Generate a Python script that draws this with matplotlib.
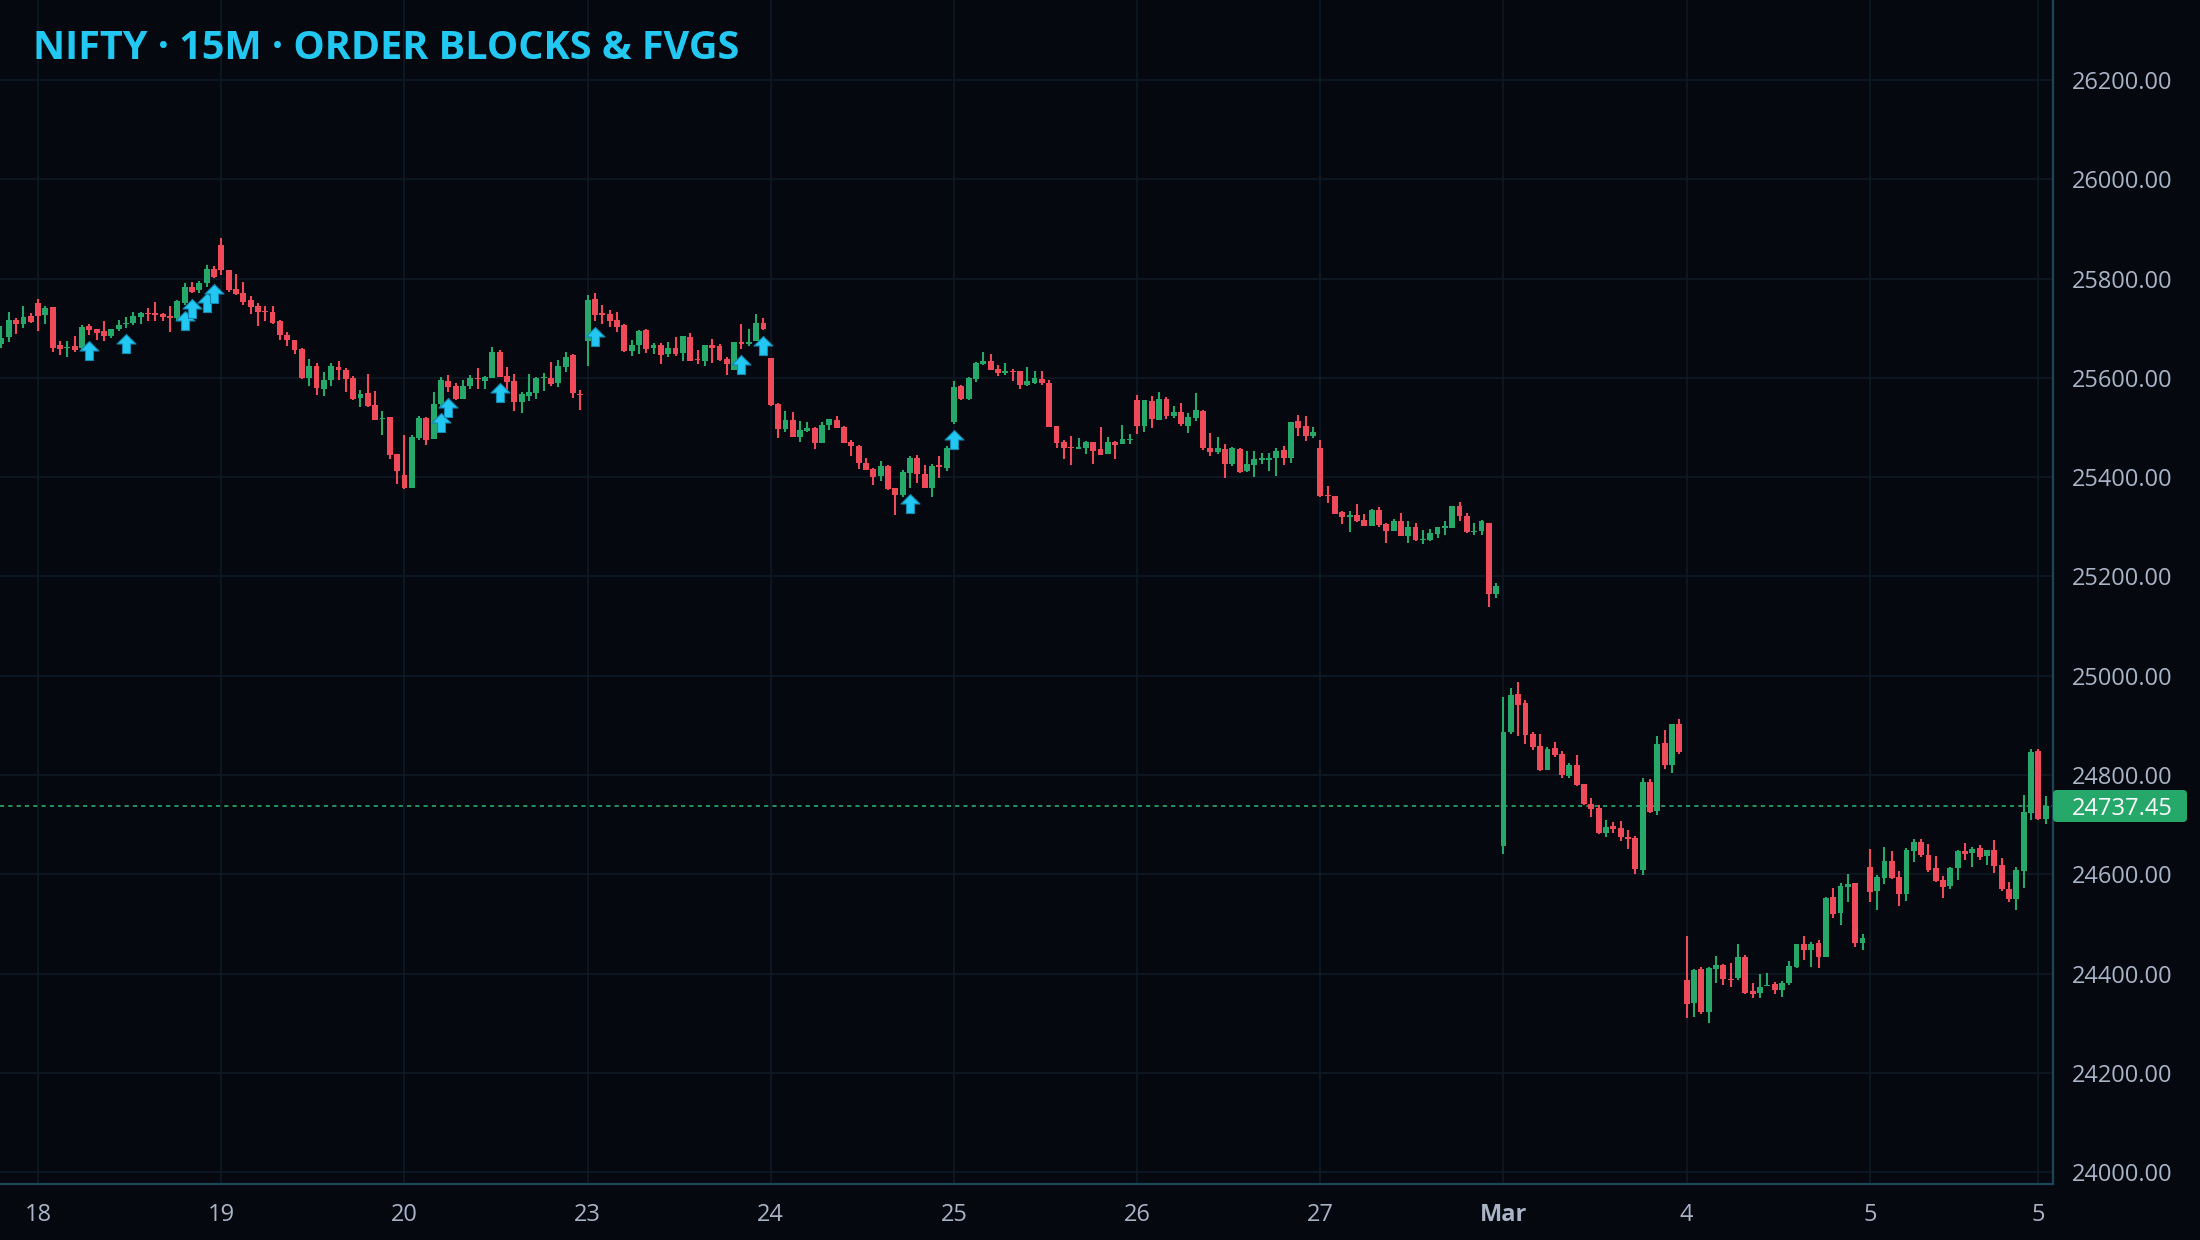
import numpy as np
import pandas as pd
import matplotlib
matplotlib.use("Agg")
import matplotlib.pyplot as plt
from matplotlib.path import Path
from matplotlib.patches import FancyBboxPatch
from matplotlib.transforms import IdentityTransform

# ---------------- data ----------------
opens = [25668, 25683, 25716, 25709, 25724, 25750, 25726, 25742, 25666, 25660,
         25664, 25659, 25704, 25699, 25695, 25684, 25698, 25708, 25711, 25723,
         25731, 25731, 25728, 25722, 25720, 25750, 25783, 25777, 25791, 25819,
         25867, 25817, 25778, 25771, 25756, 25744, 25735, 25732, 25714, 25686,
         25677, 25658, 25600, 25623, 25577, 25595, 25621, 25615, 25600, 25560,
         25569, 25545, 25517, 25521, 25446, 25404, 25378, 25478, 25518, 25476,
         25548, 25593, 25583, 25558, 25583, 25599, 25594, 25600, 25652, 25603,
         25593, 25552, 25563, 25570, 25599, 25599, 25590, 25622, 25646, 25568,
         25675, 25758, 25731, 25728, 25716, 25706, 25654, 25666, 25696, 25659,
         25666, 25648, 25659, 25650, 25682, 25636, 25634, 25667, 25664, 25638,
         25615, 25672, 25669, 25675, 25710, 25640, 25547, 25497, 25515, 25481,
         25492, 25498, 25468, 25504, 25515, 25500, 25471, 25463, 25428, 25416,
         25403, 25423, 25378, 25363, 25409, 25439, 25406, 25377, 25424, 25419,
         25510, 25584, 25557, 25598, 25628, 25634, 25618, 25610, 25614, 25614,
         25586, 25590, 25598, 25590, 25503, 25471, 25461, 25457, 25459, 25471,
         25457, 25447, 25471, 25467, 25475, 25555, 25502, 25553, 25515, 25557,
         25523, 25531, 25503, 25519, 25533, 25459, 25451, 25457, 25426, 25457,
         25412, 25424, 25435, 25435, 25439, 25455, 25439, 25513, 25503, 25483,
         25459, 25364, 25362, 25330, 25319, 25324, 25314, 25302, 25334, 25306,
         25292, 25312, 25281, 25300, 25273, 25273, 25285, 25298, 25298, 25342,
         25322, 25289, 25292, 25308, 25165, 24656, 24887, 24963, 24945, 24883,
         24858, 24810, 24854, 24842, 24798, 24820, 24782, 24742, 24733, 24683,
         24697, 24693, 24675, 24673, 24609, 24786, 24727, 24864, 24820, 24903,
         24387, 24341, 24409, 24323, 24409, 24417, 24389, 24390, 24433, 24365,
         24361, 24374, 24379, 24366, 24380, 24413, 24460, 24448, 24462, 24434,
         24554, 24521, 24575, 24582, 24462, 24615, 24567, 24593, 24627, 24594,
         24561, 24647, 24665, 24639, 24613, 24588, 24577, 24613, 24647, 24643,
         24653, 24637, 24649, 24619, 24570, 24551, 24607, 24724, 24848, 24711]
highs = [25704, 25733, 25720, 25744, 25730, 25758, 25744, 25742, 25674, 25674,
         25684, 25706, 25708, 25699, 25714, 25699, 25716, 25722, 25732, 25732,
         25740, 25752, 25730, 25744, 25756, 25791, 25793, 25795, 25827, 25825,
         25882, 25818, 25810, 25793, 25764, 25750, 25744, 25744, 25717, 25692,
         25677, 25660, 25638, 25629, 25611, 25629, 25634, 25619, 25603, 25575,
         25607, 25573, 25533, 25521, 25446, 25484, 25484, 25524, 25521, 25571,
         25602, 25605, 25589, 25595, 25605, 25620, 25603, 25662, 25656, 25621,
         25607, 25571, 25607, 25602, 25609, 25632, 25636, 25652, 25648, 25575,
         25766, 25771, 25746, 25736, 25732, 25708, 25676, 25696, 25698, 25670,
         25670, 25672, 25682, 25684, 25690, 25656, 25666, 25678, 25668, 25641,
         25672, 25708, 25698, 25728, 25720, 25640, 25549, 25533, 25531, 25513,
         25511, 25500, 25511, 25517, 25523, 25502, 25475, 25465, 25439, 25418,
         25432, 25424, 25378, 25414, 25443, 25445, 25424, 25426, 25443, 25463,
         25594, 25586, 25602, 25632, 25652, 25648, 25626, 25630, 25618, 25614,
         25622, 25614, 25614, 25596, 25503, 25475, 25483, 25479, 25473, 25471,
         25501, 25481, 25473, 25505, 25487, 25565, 25555, 25563, 25571, 25561,
         25543, 25549, 25529, 25569, 25535, 25489, 25481, 25467, 25461, 25459,
         25453, 25453, 25449, 25449, 25459, 25463, 25511, 25525, 25523, 25501,
         25475, 25382, 25362, 25332, 25332, 25346, 25326, 25336, 25340, 25308,
         25316, 25328, 25312, 25308, 25293, 25295, 25300, 25312, 25342, 25350,
         25328, 25308, 25314, 25308, 25187, 24957, 24975, 24987, 24951, 24887,
         24883, 24856, 24866, 24848, 24824, 24840, 24782, 24754, 24739, 24709,
         24705, 24707, 24689, 24677, 24794, 24792, 24878, 24891, 24903, 24913,
         24476, 24409, 24413, 24413, 24435, 24419, 24421, 24459, 24437, 24381,
         24399, 24401, 24383, 24385, 24425, 24460, 24476, 24464, 24468, 24554,
         24572, 24582, 24601, 24582, 24480, 24651, 24598, 24655, 24647, 24606,
         24653, 24671, 24671, 24661, 24637, 24596, 24615, 24649, 24663, 24655,
         24659, 24649, 24669, 24633, 24584, 24615, 24760, 24852, 24852, 24758]
lows = [25661, 25673, 25688, 25701, 25711, 25694, 25708, 25652, 25646, 25642,
        25652, 25656, 25686, 25676, 25674, 25681, 25694, 25701, 25706, 25708,
        25714, 25714, 25714, 25692, 25716, 25746, 25771, 25770, 25783, 25802,
        25807, 25773, 25766, 25746, 25728, 25704, 25714, 25709, 25676, 25664,
        25648, 25597, 25583, 25565, 25563, 25583, 25595, 25571, 25556, 25541,
        25541, 25515, 25484, 25436, 25386, 25375, 25378, 25474, 25464, 25476,
        25542, 25572, 25556, 25558, 25577, 25577, 25577, 25600, 25601, 25570,
        25533, 25529, 25554, 25558, 25574, 25583, 25582, 25612, 25560, 25535,
        25623, 25714, 25708, 25702, 25692, 25652, 25644, 25648, 25650, 25648,
        25628, 25642, 25644, 25634, 25634, 25628, 25623, 25630, 25634, 25605,
        25615, 25658, 25664, 25675, 25696, 25543, 25478, 25491, 25481, 25471,
        25490, 25457, 25468, 25494, 25498, 25469, 25443, 25416, 25414, 25385,
        25393, 25374, 25324, 25359, 25379, 25389, 25379, 25359, 25399, 25413,
        25506, 25556, 25556, 25592, 25626, 25616, 25604, 25606, 25594, 25578,
        25584, 25588, 25586, 25500, 25459, 25437, 25424, 25457, 25447, 25427,
        25445, 25447, 25437, 25467, 25467, 25486, 25490, 25498, 25514, 25517,
        25519, 25503, 25489, 25513, 25455, 25443, 25447, 25398, 25422, 25408,
        25410, 25400, 25426, 25412, 25402, 25424, 25428, 25483, 25473, 25479,
        25360, 25348, 25326, 25306, 25290, 25310, 25302, 25302, 25300, 25267,
        25292, 25281, 25267, 25271, 25265, 25271, 25277, 25283, 25298, 25312,
        25287, 25283, 25283, 25138, 25156, 24641, 24883, 24878, 24862, 24850,
        24808, 24810, 24836, 24794, 24794, 24778, 24740, 24715, 24681, 24675,
        24683, 24667, 24651, 24600, 24598, 24723, 24719, 24812, 24804, 24842,
        24311, 24313, 24319, 24301, 24380, 24376, 24372, 24386, 24359, 24351,
        24351, 24374, 24359, 24353, 24376, 24412, 24428, 24414, 24412, 24434,
        24511, 24498, 24545, 24454, 24448, 24545, 24527, 24581, 24591, 24535,
        24547, 24625, 24635, 24605, 24585, 24553, 24571, 24589, 24629, 24615,
        24629, 24619, 24603, 24567, 24545, 24527, 24573, 24710, 24710, 24702]
closes = [25681, 25716, 25708, 25722, 25712, 25725, 25740, 25661, 25657, 25663,
          25656, 25703, 25696, 25691, 25684, 25699, 25707, 25711, 25724, 25731,
          25729, 25726, 25722, 25721, 25755, 25783, 25773, 25791, 25820, 25803,
          25817, 25777, 25769, 25753, 25743, 25733, 25732, 25711, 25686, 25676,
          25656, 25599, 25623, 25580, 25595, 25623, 25615, 25598, 25558, 25568,
          25543, 25515, 25520, 25444, 25413, 25377, 25480, 25518, 25474, 25548,
          25595, 25582, 25558, 25583, 25599, 25597, 25602, 25652, 25602, 25592,
          25552, 25567, 25571, 25600, 25602, 25587, 25623, 25642, 25570, 25565,
          25756, 25726, 25726, 25715, 25703, 25654, 25666, 25694, 25658, 25666,
          25646, 25659, 25648, 25684, 25634, 25635, 25666, 25661, 25636, 25628,
          25672, 25668, 25673, 25710, 25699, 25545, 25497, 25515, 25481, 25495,
          25498, 25469, 25504, 25517, 25499, 25469, 25463, 25428, 25415, 25401,
          25422, 25376, 25363, 25410, 25439, 25407, 25379, 25422, 25420, 25459,
          25582, 25557, 25600, 25630, 25634, 25616, 25610, 25613, 25611, 25586,
          25594, 25600, 25590, 25501, 25469, 25459, 25458, 25461, 25471, 25453,
          25445, 25471, 25465, 25477, 25477, 25502, 25555, 25516, 25557, 25523,
          25531, 25507, 25521, 25535, 25459, 25451, 25459, 25426, 25459, 25410,
          25426, 25437, 25438, 25439, 25453, 25439, 25511, 25499, 25483, 25491,
          25362, 25361, 25326, 25320, 25324, 25311, 25302, 25334, 25304, 25292,
          25312, 25281, 25300, 25273, 25276, 25287, 25300, 25300, 25342, 25322,
          25289, 25292, 25312, 25165, 25181, 24887, 24961, 24941, 24880, 24856,
          24810, 24852, 24840, 24800, 24820, 24780, 24742, 24732, 24683, 24695,
          24691, 24675, 24671, 24611, 24786, 24725, 24862, 24820, 24903, 24846,
          24339, 24407, 24323, 24411, 24417, 24388, 24387, 24433, 24361, 24359,
          24373, 24377, 24366, 24381, 24415, 24460, 24448, 24460, 24434, 24552,
          24519, 24576, 24580, 24462, 24472, 24565, 24594, 24627, 24593, 24561,
          24649, 24665, 24639, 24609, 24587, 24575, 24613, 24647, 24641, 24651,
          24635, 24649, 24617, 24571, 24551, 24608, 24725, 24846, 24711, 24737.45]

# bars carrying an order-block arrow signal
signal_bars = [12, 17, 25, 26, 28, 29, 60, 61, 68, 81, 101, 104, 124, 130]

session_dates = ["2026-02-17", "2026-02-18", "2026-02-19", "2026-02-20",
                 "2026-02-23", "2026-02-24", "2026-02-25", "2026-02-26",
                 "2026-02-27", "2026-03-02", "2026-03-04", "2026-03-05"]
x_tick_labels = ["18", "19", "20", "23", "24", "25", "26", "27", "Mar", "4", "5", "5"]
extra_tick_time = "2026-03-05 15:00"
y_ticks = [24000, 24200, 24400, 24600, 24800, 25000, 25200, 25400,
           25600, 25800, 26000, 26200]
title = "NIFTY · 15M · ORDER BLOCKS & FVGS"

# ---------------- styles ----------------
BG = "#05080f"
GRID = "#0d1a24"
SPINE = "#1b4656"
TXT = "#a9b4c6"
UP = "#27a86b"
DN = "#ee4a59"
CYAN = "#22c8f2"
FONT = "Open Sans"

o = np.array(opens, float)
h = np.array(highs, float)
l = np.array(lows, float)
c = np.array(closes, float)
n = len(o)
x = np.arange(n)

# timestamps (15-minute bars, 09:15-15:15 sessions)
times = []
for d in session_dates:
    times.extend(pd.date_range(d + " 09:15", periods=25, freq="15min"))
times = pd.DatetimeIndex(times[-n:])
tick_pos = [i for i in range(1, n) if times[i].date() != times[i - 1].date()]
tick_pos.append(int(np.where(times == pd.Timestamp(extra_tick_time))[0][0]))

W, H, DPI = 2200, 1240, 100
fig = plt.figure(figsize=(W / DPI, H / DPI), dpi=DPI, facecolor=BG)
ax = fig.add_axes([0, 56 / H, 2053 / W, 1184 / H])
ax.set_facecolor(BG)
ax.set_xlim(-0.2, n + 0.0)
ax.set_ylim(23976, 26361)

for s in ["top", "left"]:
    ax.spines[s].set_visible(False)
for s in ["right", "bottom"]:
    ax.spines[s].set_color(SPINE)
    ax.spines[s].set_linewidth(1.6)

ax.set_yticks(y_ticks)
ax.set_yticklabels([f"{v:.2f}" for v in y_ticks])
ax.yaxis.tick_right()
ax.set_xticks(tick_pos)
ax.set_xticklabels(x_tick_labels)
ax.tick_params(axis="both", length=0, colors=TXT, labelsize=17)
ax.tick_params(axis="y", pad=13.5)
ax.tick_params(axis="x", pad=14)
for lab in ax.get_xticklabels() + ax.get_yticklabels():
    lab.set_fontfamily(FONT)
for lab in ax.get_xticklabels():
    if lab.get_text() == "Mar":
        lab.set_fontweight("bold")
ax.grid(True, color=GRID, lw=1.2, zorder=0)
ax.set_axisbelow(True)

# candles
up = c >= o
cols = np.where(up, UP, DN)
ax.vlines(x, l, h, colors=cols, lw=1.5, zorder=3)
body_lo = np.minimum(o, c)
body_h = np.maximum(np.abs(c - o), 2.5)
ax.bar(x, body_h, width=0.8, bottom=body_lo, color=cols, lw=0, zorder=4)

# last price line
last = c[-1]
ax.axhline(last, color=UP, lw=1.3, ls=(0, (2.3, 2.3)), zorder=2, alpha=0.95)

# arrow signals under the bars' lows
verts = [(0, -6), (9.5, -15.5), (4, -15.5), (4, -25), (-4, -25),
         (-4, -15.5), (-9.5, -15.5), (0, -6)]
codes = [Path.MOVETO] + [Path.LINETO] * 6 + [Path.CLOSEPOLY]
arrow = Path(verts, codes)
sb = np.array(signal_bars)
ax.plot(sb, l[sb], ls="none", marker=arrow, ms=36, mfc=CYAN, mec="#1488b0",
        mew=0.8, zorder=6)

# title
fig.text(33 / W, 1 - 59 / H, title, color=CYAN, fontsize=28.5, fontweight="bold",
         family=FONT, va="baseline", ha="left")

# price tag
fig.canvas.draw()
yd = ax.transData.transform((0, last))[1]
tag = FancyBboxPatch((2053, yd - 16), 134, 32,
                     boxstyle="round,pad=0,rounding_size=4",
                     transform=IdentityTransform(), facecolor=UP, edgecolor="none")
fig.add_artist(tag)
fig.text(2072 / W, yd / H, f"{last:.2f}", color="white", fontsize=17,
         family=FONT, va="center_baseline", ha="left")

fig.savefig("out.png", dpi=DPI, facecolor=BG)
